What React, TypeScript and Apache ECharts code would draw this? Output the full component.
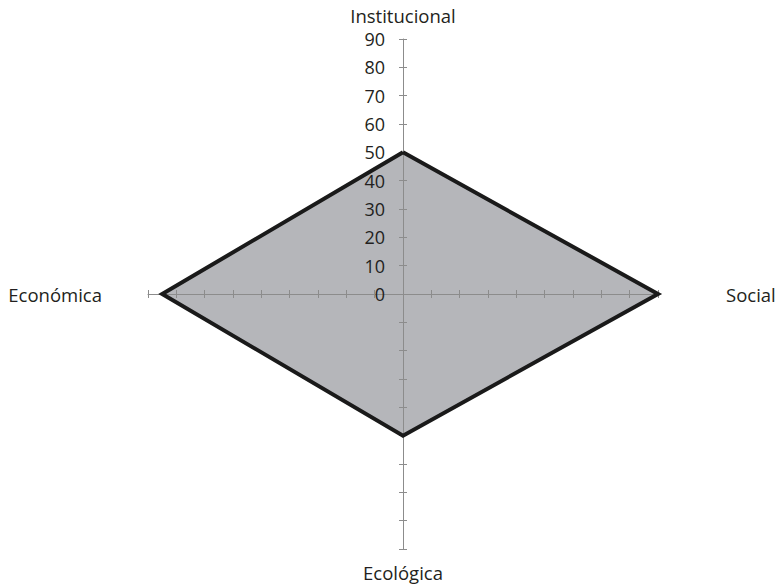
import React, { useEffect, useRef } from 'react';
import * as echarts from 'echarts';

const indicatorNames = ['Institucional', 'Económica', 'Ecológica', 'Social'];
const indicatorMax = [90, 90, 90, 90];
const seriesValues = [50, 85, 50, 90];
const nameGaps = [14, 46, 14, 68];
const splitCount = 9;

export default function App() {
  const ref = useRef<HTMLDivElement>(null);
  useEffect(() => {
    const chart = echarts.init(ref.current!, null, { renderer: 'svg' });
    const font = 'Open Sans';
    const axisColor = '#8c8c8c';
    const mkIndicators = (withLabels: boolean) =>
      indicatorNames.map((name, i) => {
        const ind: any = { name, max: indicatorMax[i], min: 0 };
        if (withLabels) {
          ind.nameGap = nameGaps[i];
          if (i === 0) {
            ind.axisLabel = {
              show: true,
              color: '#231f20',
              fontSize: 18,
              fontFamily: font,
              margin: 18,
            };
          }
        }
        return ind;
      });
    const common = {
      center: [403, 294],
      radius: 255,
      splitNumber: splitCount,
      shape: 'polygon',
      startAngle: 90,
      splitLine: { show: false },
      splitArea: { show: false },
    };
    chart.setOption({
      animation: false,
      backgroundColor: '#ffffff',
      radar: [
        {
          ...common,
          z: 2,
          indicator: mkIndicators(true),
          axisName: { color: '#231f20', fontSize: 18.5, fontFamily: font },
          axisLine: { show: true, lineStyle: { color: axisColor, width: 1 } },
          axisTick: { show: true, length: 4, lineStyle: { color: axisColor, width: 1 } },
          axisLabel: { show: false },
        },
        {
          ...common,
          z: 2,
          indicator: mkIndicators(false),
          axisName: { show: false },
          axisLine: { show: false },
          axisTick: { show: true, length: -4, lineStyle: { color: axisColor, width: 1 } },
          axisLabel: { show: false },
        },
      ],
      series: [
        {
          type: 'radar',
          radarIndex: 0,
          z: 1,
          symbol: 'none',
          lineStyle: { width: 0, opacity: 0 },
          areaStyle: { color: '#b5b6ba', opacity: 1 },
          data: [{ value: seriesValues }],
        },
        {
          type: 'radar',
          radarIndex: 0,
          z: 3,
          symbol: 'none',
          lineStyle: { color: '#1a1a1a', width: 4, join: 'miter' },
          data: [{ value: seriesValues }],
        },
      ],
    });
    return () => chart.dispose();
  }, []);
  return (
    <div
      ref={ref}
      style={{ position: 'fixed', left: 0, top: 0, width: 777, height: 587 }}
    />
  );
}
